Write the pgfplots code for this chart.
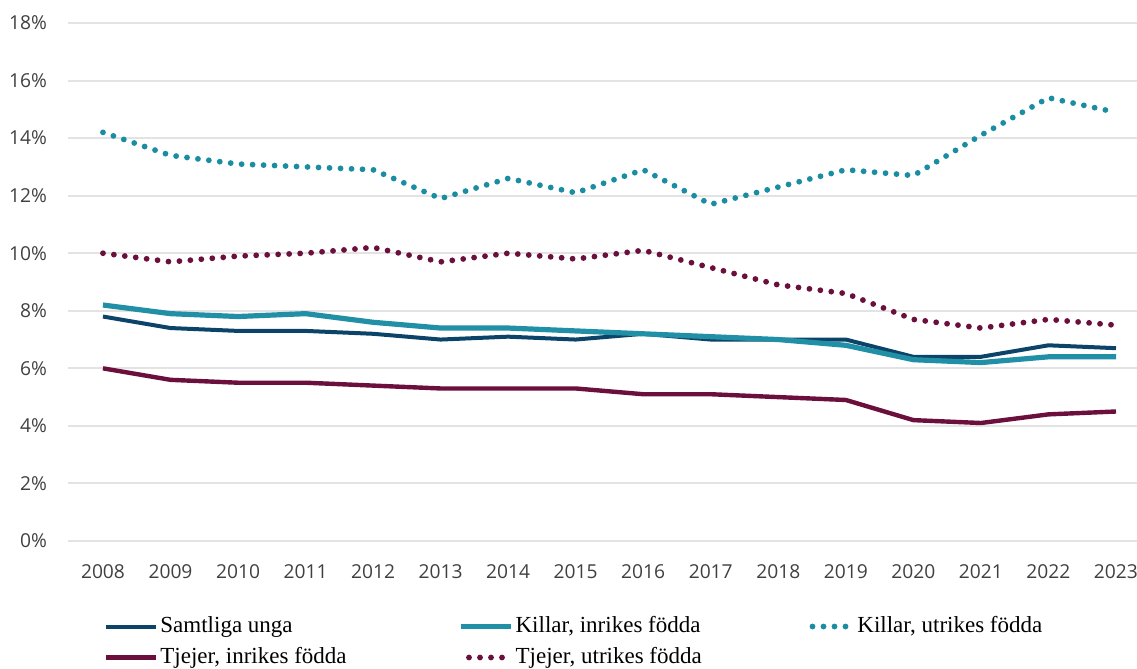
\documentclass[border=0pt]{standalone}
\usepackage{fontspec}
\setmainfont{Liberation Serif}
\newfontfamily\tickfont{Open Sans}
\usepackage{pgfplots}
\pgfplotsset{compat=1.18}
\definecolor{navy}{HTML}{0B4468}
\definecolor{tealc}{HTML}{2190A6}
\definecolor{teald}{HTML}{1A8DA2}
\definecolor{maroon}{HTML}{6B0F3D}
\definecolor{gridc}{HTML}{E3E3E3}
\definecolor{tickc}{HTML}{404040}
\pgfplotsset{
  solidleg/.style={legend image code/.code={\draw[##1] (0pt,0pt) -- (25pt,0pt);}},
  dotleg/.style={legend image code/.code={\draw[##1] (4pt,0pt) -- (24pt,0pt);}},
}
\begin{document}
\begin{tikzpicture}
\begin{axis}[
  at={(0pt,0pt)}, anchor=south west,
  scale only axis,
  width=534.5pt, height=259pt,
  xmin=2007.482, xmax=2023.311,
  ymin=0, ymax=18,
  axis line style={draw=none},
  major tick length=0pt,
  xtick={2008,...,2023},
  ytick={0,2,...,18},
  ymajorgrids,
  grid style={gridc, line width=1pt},
  /pgf/number format/assume math mode=true,
  /pgf/number format/1000 sep={},
  xticklabel style={font=\fontsize{9.6}{11}\tickfont, text=tickc, yshift=-8.5pt},
  yticklabel style={font=\fontsize{9.6}{11}\tickfont, text=tickc, xshift=-7pt},
  yticklabel={\pgfmathprintnumber{\tick}\%},
  clip=false,
  legend columns=3,
  legend cell align=left,
  legend style={draw=none, fill=none, inner sep=0pt, outer sep=0pt,
    at={(0.0337,-0.139)}, anchor=north west,
    font=\fontsize{11.5}{13}\selectfont,
    nodes={inner xsep=1pt, inner ysep=1.5pt, text height=8pt, text depth=2.5pt},
    row sep=2pt,
  },
]
\addplot[navy, line width=2pt, line join=round, solidleg] coordinates {
(2008,7.8)(2009,7.4)(2010,7.3)(2011,7.3)(2012,7.2)(2013,7.0)(2014,7.1)(2015,7.0)
(2016,7.2)(2017,7.0)(2018,7.0)(2019,7.0)(2020,6.4)(2021,6.4)(2022,6.8)(2023,6.7)};
\addlegendentry{\makebox[148pt][l]{Samtliga unga}}
\addplot[tealc, line width=2.6pt, line join=round, solidleg] coordinates {
(2008,8.2)(2009,7.9)(2010,7.8)(2011,7.9)(2012,7.6)(2013,7.4)(2014,7.4)(2015,7.3)
(2016,7.2)(2017,7.1)(2018,7.0)(2019,6.8)(2020,6.3)(2021,6.2)(2022,6.4)(2023,6.4)};
\addlegendentry{\makebox[146pt][l]{Killar, inrikes f\"odda}}
\addplot[teald, line width=2.9pt, line cap=round, line join=round, dash pattern=on 0pt off 5.5pt, dotleg] coordinates {
(2008,14.2)(2009,13.4)(2010,13.1)(2011,13.0)(2012,12.9)(2013,11.9)(2014,12.6)(2015,12.1)
(2016,12.9)(2017,11.7)(2018,12.3)(2019,12.9)(2020,12.7)(2021,14.1)(2022,15.4)(2023,14.9)};
\addlegendentry{Killar, utrikes f\"odda}
\addplot[maroon, line width=2.2pt, line join=round, solidleg] coordinates {
(2008,6.0)(2009,5.6)(2010,5.5)(2011,5.5)(2012,5.4)(2013,5.3)(2014,5.3)(2015,5.3)
(2016,5.1)(2017,5.1)(2018,5.0)(2019,4.9)(2020,4.2)(2021,4.1)(2022,4.4)(2023,4.5)};
\addlegendentry{\makebox[148pt][l]{Tjejer, inrikes f\"odda}}
\addplot[maroon, line width=2.9pt, line cap=round, line join=round, dash pattern=on 0pt off 5.5pt, dotleg] coordinates {
(2008,10.0)(2009,9.7)(2010,9.9)(2011,10.0)(2012,10.2)(2013,9.7)(2014,10.0)(2015,9.8)
(2016,10.1)(2017,9.5)(2018,8.9)(2019,8.6)(2020,7.7)(2021,7.4)(2022,7.7)(2023,7.5)};
\addlegendentry{\makebox[146pt][l]{Tjejer, utrikes f\"odda}}
\end{axis}
\pgfresetboundingbox
\path (-34pt,-64pt) rectangle (534.5pt,270.5pt);
\end{tikzpicture}
\end{document}
